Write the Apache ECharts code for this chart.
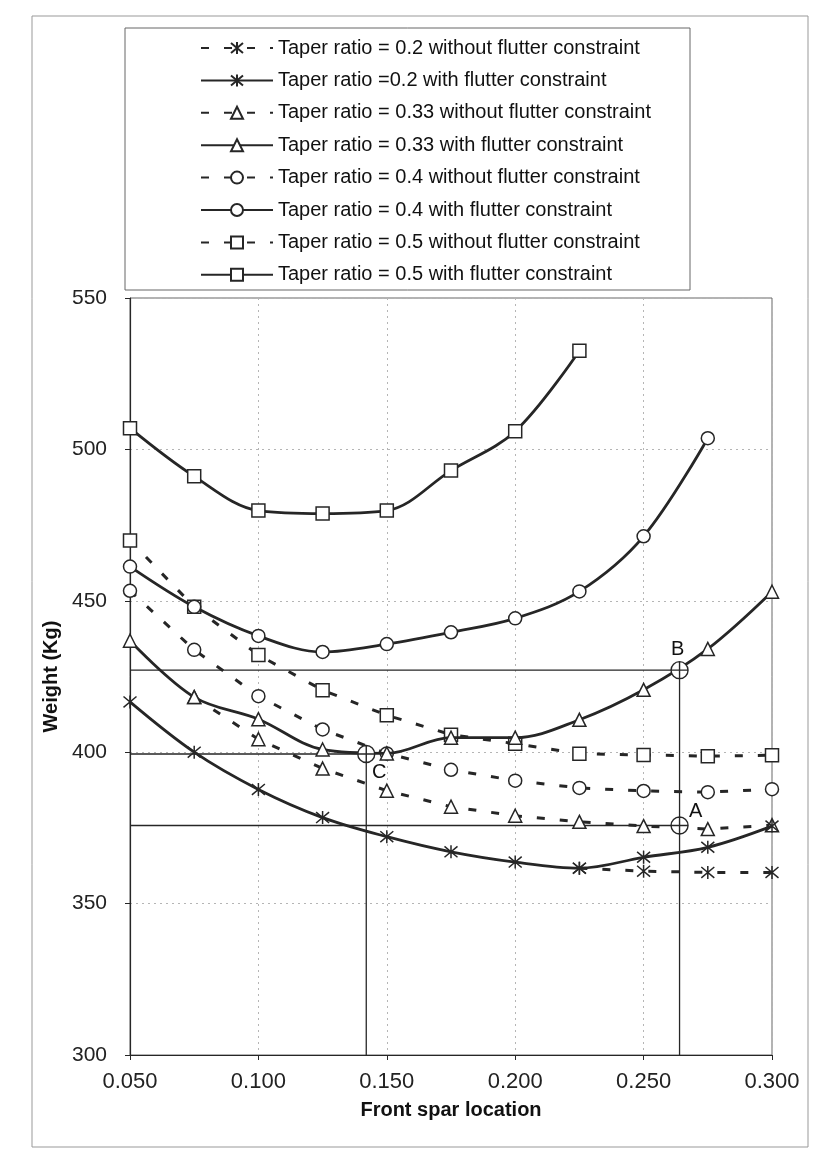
<!DOCTYPE html>
<html>
<head>
<meta charset="utf-8">
<script src="https://cdn.jsdelivr.net/npm/echarts@6/dist/echarts.min.js"></script>
<style>
  html, body { margin: 0; padding: 0; background: #fff; }
  #chart { width: 819px; height: 1157px; }
</style>
</head>
<body>
<div id="chart"></div>
<script>
// front spar location (x)
const xs = [0.05, 0.075, 0.1, 0.125, 0.15, 0.175, 0.2, 0.225, 0.25, 0.275, 0.3];

// weight (Kg) per taper ratio; "without" curves start where they leave the constrained one
const tr02Free     = [null, null, null, null, null, null, null, 361.7, 360.7, 360.3, 360.3];
const tr02Flutter  = [416.6, 400.0, 387.7, 378.4, 372.1, 367.1, 363.7, 361.7, 365.3, 368.6, 375.6];
const tr033Free    = [null, 418.2, 404.3, 394.6, 387.3, 382.0, 379.0, 377.0, 375.6, 374.6, 375.9];
const tr033Flutter = [436.8, 418.2, 410.9, 400.9, 399.6, 404.8, 404.8, 410.7, 420.6, 434.1, 453.0];
const tr04Free     = [453.3, 433.8, 418.5, 407.5, 399.6, 394.2, 390.6, 388.2, 387.2, 386.8, 387.8];
const tr04Flutter  = [461.3, 448.0, 438.4, 433.1, 435.7, 439.6, 444.2, 453.1, 471.3, 503.7];
const tr05Free     = [469.9, 448.0, 432.1, 420.5, 412.2, 405.8, 402.8, 399.5, 399.1, 398.7, 399.0];
const tr05Flutter  = [507.0, 491.1, 479.8, 478.8, 479.8, 493.0, 506.0, 532.6];

// marked points A, B, C
const pointNames = ['A', 'B', 'C'];
const pointX = [0.264, 0.264, 0.142];
const pointY = [375.8, 427.1, 399.4];

const seriesNames = [
  'Taper ratio = 0.2 without flutter constraint',
  'Taper ratio =0.2 with flutter constraint',
  'Taper ratio = 0.33 without flutter constraint',
  'Taper ratio = 0.33 with flutter constraint',
  'Taper ratio = 0.4 without flutter constraint',
  'Taper ratio = 0.4 with flutter constraint',
  'Taper ratio = 0.5 without flutter constraint',
  'Taper ratio = 0.5 with flutter constraint'
];

const INK = '#262626';
const FONT = '"Liberation Sans", Arial, sans-serif';
const starSym = 'path://M-5,-5L5,5M5,-5L-5,5M0,-6L0,6';
const crossCircle = 'path://M0,-10A10,10 0 1,1 0,10A10,10 0 1,1 0,-10ZM-10,0L10,0M0,-10L0,10';

function pairs(vals) {
  return vals.map((v, i) => [xs[i], v]);
}

function curve(name, vals, symbol, dashed) {
  return {
    name: name,
    type: 'line',
    data: pairs(vals),
    smooth: dashed ? false : 0.35,
    symbol: symbol,
    symbolSize: 13,
    z: dashed ? 2 : 3,
    lineStyle: {
      color: INK,
      width: dashed ? 3 : 2.8,
      type: dashed ? [8, 15] : 'solid'
    },
    itemStyle: {
      color: symbol === starSym ? INK : '#fff',
      borderColor: INK,
      borderWidth: 1.5
    },
    emphasis: { disabled: true }
  };
}

// guide lines through A, B, C
const guides = [];
pointNames.forEach((n, i) => {
  const line = [[xs[0], pointY[i]], [pointX[i], pointY[i]]];
  if (n !== 'A') line.push([pointX[i], 300]);
  guides.push({
    type: 'line',
    data: line,
    symbol: 'none',
    z: 1,
    lineStyle: { color: INK, width: 1.3 },
    emphasis: { disabled: true }
  });
});

const labelOffsets = { A: [16, -14], B: [-2, -21], C: [13, 18] };

const chart = echarts.init(document.getElementById('chart'));
chart.setOption({
  animation: false,
  backgroundColor: '#fff',
  textStyle: { fontFamily: FONT },
  graphic: [
    { type: 'rect', shape: { x: 32, y: 16, width: 776, height: 1131 },
      style: { fill: 'none', stroke: '#999', lineWidth: 1 } },
    { type: 'rect', shape: { x: 125, y: 28, width: 565, height: 262 },
      style: { fill: '#fff', stroke: '#666', lineWidth: 1 } }
  ],
  legend: {
    data: seriesNames,
    orient: 'vertical',
    left: 195,
    top: 33,
    itemWidth: 72,
    itemHeight: 15,
    itemGap: 12.4,
    z: 10,
    textStyle: { fontSize: 20, color: '#111', fontFamily: FONT, lineHeight: 20 }
  },
  grid: { left: 130, right: 47, top: 298, bottom: 102, show: true, borderColor: '#666', borderWidth: 1 },
  xAxis: {
    type: 'value',
    min: 0.05,
    max: 0.3,
    interval: 0.05,
    name: 'Front spar location',
    nameLocation: 'middle',
    nameGap: 45,
    nameTextStyle: { fontSize: 20, fontWeight: 'bold', color: '#111' },
    axisLine: { lineStyle: { color: INK, width: 1.2 } },
    axisTick: { show: true, length: 5, lineStyle: { color: INK } },
    axisLabel: { fontSize: 22, color: '#222', margin: 16, formatter: v => v.toFixed(3) },
    splitLine: { show: true, lineStyle: { color: '#b5b5b5', type: [2, 4], width: 1 } }
  },
  yAxis: {
    type: 'value',
    min: 300,
    max: 550,
    interval: 50,
    name: 'Weight (Kg)',
    nameLocation: 'middle',
    nameGap: 64,
    nameRotate: 90,
    nameTextStyle: { fontSize: 20, fontWeight: 'bold', color: '#111' },
    axisLine: { show: true, lineStyle: { color: INK, width: 1.2 } },
    axisTick: { show: true, length: 5, lineStyle: { color: INK } },
    axisLabel: { fontSize: 21, color: '#222', margin: 23 },
    splitLine: { show: true, lineStyle: { color: '#b5b5b5', type: [2, 4], width: 1 } }
  },
  series: [
    curve(seriesNames[0], tr02Free, starSym, true),
    curve(seriesNames[1], tr02Flutter, starSym, false),
    curve(seriesNames[2], tr033Free, 'triangle', true),
    curve(seriesNames[3], tr033Flutter, 'triangle', false),
    curve(seriesNames[4], tr04Free, 'circle', true),
    curve(seriesNames[5], tr04Flutter, 'circle', false),
    curve(seriesNames[6], tr05Free, 'rect', true),
    curve(seriesNames[7], tr05Flutter, 'rect', false),
    ...guides,
    {
      type: 'scatter',
      z: 5,
      symbol: crossCircle,
      symbolSize: 17,
      itemStyle: { color: '#fff', borderColor: INK, borderWidth: 1.4, opacity: 1 },
      emphasis: { disabled: true },
      data: pointNames.map((n, i) => ({
        name: n,
        value: [pointX[i], pointY[i]],
        label: {
          show: true,
          formatter: n,
          position: 'inside',
          offset: labelOffsets[n],
          fontSize: 20,
          color: '#111',
          fontFamily: FONT
        }
      }))
    }
  ]
});
</script>
</body>
</html>
